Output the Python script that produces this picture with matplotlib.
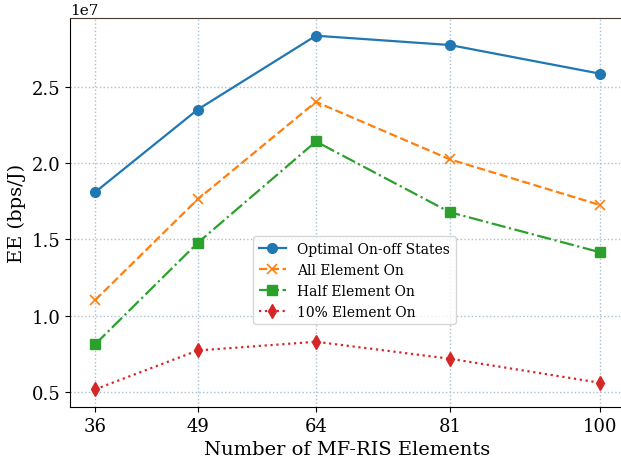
import matplotlib
matplotlib.use("Agg")
import matplotlib.pyplot as plt

# Number of MF-RIS elements and energy efficiency (bps/J) for each on-off scheme
elements = [36, 49, 64, 81, 100]
ee_optimal = [1.81e7, 2.35e7, 2.833e7, 2.772e7, 2.585e7]
ee_all_on = [1.104e7, 1.763e7, 2.40e7, 2.024e7, 1.726e7]
ee_half_on = [0.815e7, 1.478e7, 2.141e7, 1.678e7, 1.417e7]
ee_ten_pct = [0.52e7, 0.774e7, 0.831e7, 0.72e7, 0.563e7]

labels = ["Optimal On-off States", "All Element On", "Half Element On", "10% Element On"]

plt.rcParams["font.family"] = ["DejaVu Serif"]

fig = plt.figure(figsize=(6.21, 4.64), dpi=100)
ax = fig.add_axes([0.1127, 0.1207, 0.8937, 0.8383])

ax.plot(elements, ee_optimal, "-o", color="#1f77b4", lw=1.6, ms=7, label=labels[0])
ax.plot(elements, ee_all_on, "--x", color="#ff7f0e", lw=1.6, ms=7, mew=1.2, label=labels[1])
ax.plot(elements, ee_half_on, "-.s", color="#2ca02c", lw=1.6, ms=7, label=labels[2])
ax.plot(elements, ee_ten_pct, ":d", color="#d62728", lw=1.6, ms=7.5, label=labels[3])

ax.set_xticks(elements)
ax.set_xticklabels([str(e) for e in elements])
ax.tick_params(labelsize=13)
ax.yaxis.get_offset_text().set_fontsize(11)

ax.grid(True, linestyle=":", color="#a9bfd3", lw=1)

ax.set_xlabel("Number of MF-RIS Elements", fontsize=14)
ax.set_ylabel("EE (bps/J)", fontsize=14)

ax.spines["top"].set_color("#4a3a30")

ax.legend(loc="center", bbox_to_anchor=(0.5126, 0.326), fontsize=10,
          framealpha=0.8, handlelength=2.0)

fig.savefig("out.png", dpi=100)
